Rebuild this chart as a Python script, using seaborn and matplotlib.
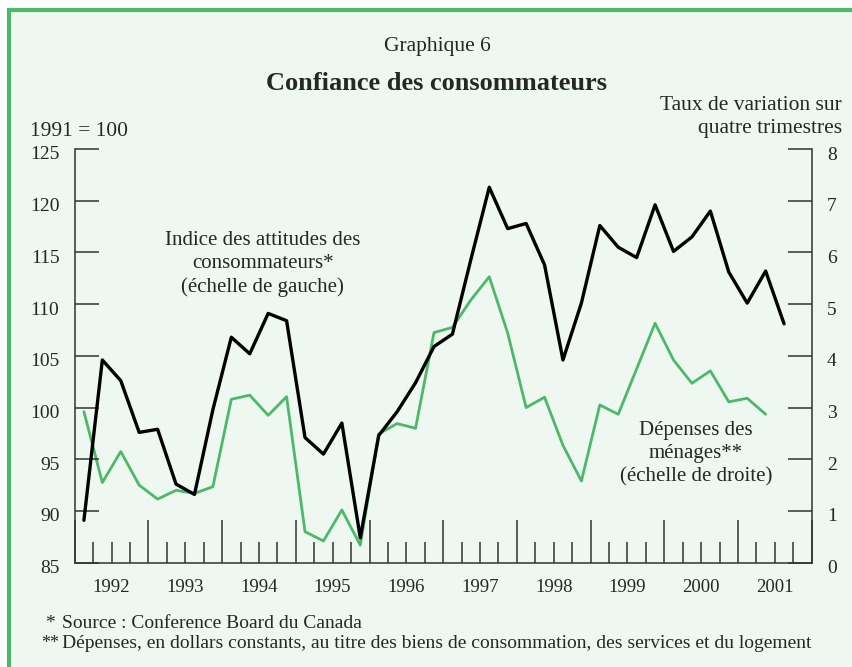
import numpy as np
import pandas as pd
import matplotlib
matplotlib.use("Agg")
import matplotlib.pyplot as plt
import matplotlib.transforms as mtransforms
from matplotlib.patches import Rectangle
import seaborn as sns

# Quarterly data, first quarter of 1992 onward
start_year = 1992
years = list(range(1992, 2002))
year_labels = [str(y) for y in years]

# Indice des attitudes des consommateurs (1991 = 100), left scale
attitudes = [89.1, 104.6, 102.6, 97.6, 97.9, 92.6, 91.6, 99.8,
             106.8, 105.2, 109.1, 108.4, 97.1, 95.5, 98.5, 87.4,
             97.3, 99.6, 102.4, 105.9, 107.1, 114.3, 121.3, 117.3,
             117.8, 113.8, 104.6, 110.1, 117.6, 115.5, 114.5, 119.6,
             115.1, 116.5, 119.0, 113.1, 110.1, 113.2, 108.1]

# Dépenses des ménages, taux de variation sur quatre trimestres, right scale
depenses = [2.92, 1.55, 2.15, 1.50, 1.23, 1.40, 1.34, 1.47,
            3.16, 3.24, 2.85, 3.21, 0.60, 0.42, 1.02, 0.34,
            2.49, 2.69, 2.60, 4.45, 4.55, 5.08, 5.53, 4.44,
            3.00, 3.20, 2.27, 1.58, 3.05, 2.87, 3.75, 4.63,
            3.92, 3.47, 3.71, 3.11, 3.18, 2.87]

left_ticks = [85, 90, 95, 100, 105, 110, 115, 120, 125]
right_ticks = [0, 1, 2, 3, 4, 5, 6, 7, 8]

GREEN = "#4cb96a"
BG = "#eef7f0"
AXC = "#333333"

# quarter mid-points in decimal years
df_att = pd.DataFrame({"t": start_year + (np.arange(len(attitudes)) + 0.5) / 4,
                       "v": attitudes})
df_dep = pd.DataFrame({"t": start_year + (np.arange(len(depenses)) + 0.5) / 4,
                       "v": depenses})

sns.set_style("ticks")
plt.rcParams["font.family"] = ["Liberation Serif", "DejaVu Serif"]

W, H = 853, 667
fig = plt.figure(figsize=(W / 100, H / 100), dpi=100)
fig.patch.set_facecolor("white")

# framed background
frame = Rectangle((9 / W, -0.1), 1.2, 1.1 - 10 / H, transform=fig.transFigure,
                  facecolor=BG, edgecolor=GREEN, linewidth=3.0, zorder=-10)
fig.patches.append(frame)

ax = fig.add_axes([74.7 / W, 1 - 562.7 / H, (811.7 - 74.7) / W, (562.7 - 149) / H])
ax2 = ax.twinx()

sns.lineplot(data=df_dep, x="t", y="v", ax=ax2, color=GREEN, linewidth=2.0)
sns.lineplot(data=df_att, x="t", y="v", ax=ax, color="black", linewidth=2.4)

ax.set_zorder(ax2.get_zorder() + 1)
ax.patch.set_visible(False)
ax2.patch.set_visible(False)

ax.set_xlim(1992, 2002)
ax.set_ylim(85, 125)
ax2.set_ylim(0, 8)
ax.set_xlabel("")
ax.set_ylabel("")
ax2.set_xlabel("")
ax2.set_ylabel("")

for a in (ax, ax2):
    a.spines["top"].set_visible(False)
    for s in a.spines.values():
        s.set_color(AXC)
        s.set_linewidth(1.1)

ax.spines["right"].set_visible(False)
ax2.spines["left"].set_visible(False)
ax2.spines["bottom"].set_visible(False)

ax.set_yticks(left_ticks)
ax.set_yticklabels([str(v) for v in left_ticks])
ax2.set_yticks(right_ticks)
ax2.set_yticklabels([str(v) for v in right_ticks])
ax.tick_params(axis="y", direction="in", length=17, width=1.1, color=AXC,
               pad=11, labelsize=14)
ax2.tick_params(axis="y", direction="in", length=17, width=1.1, color=AXC,
                pad=11, labelsize=14)

# tick labels sit a little below their ticks in the original
down = mtransforms.ScaledTranslation(0, -4 / 100, fig.dpi_scale_trans)
for lab in ax.get_yticklabels() + ax2.get_yticklabels():
    lab.set_transform(lab.get_transform() + down)

# year boundaries tall, quarters short
ax.set_xticks(np.arange(1992, 2003))
ax.set_xticklabels([])
ax.set_xticks(np.arange(1992, 2002, 0.25), minor=True)
ax.tick_params(axis="x", which="major", direction="in", length=31, width=1.1, color=AXC)
ax.tick_params(axis="x", which="minor", direction="in", length=15, width=1.1, color=AXC)

sec = ax.secondary_xaxis("bottom")
sec.set_xticks([y + 0.5 for y in years], year_labels)
sec.tick_params(length=0, pad=12, labelsize=13.5)
sec.spines["bottom"].set_visible(False)

# annotations
ax.text(1994.55, 113.9, "Indice des attitudes des\nconsommateurs*\n(échelle de gauche)",
        ha="center", va="center", fontsize=15, linespacing=1.3)
ax.text(2000.43, 95.5, "Dépenses des\nménages**\n(échelle de droite)",
        ha="center", va="center", fontsize=15, linespacing=1.3)

# titles and axis captions
fig.text(437 / W, 1 - 46 / H, "Graphique 6", ha="center", va="center", fontsize=15.5)
fig.text(437 / W, 1 - 84 / H, "Confiance des consommateurs", ha="center", va="center",
         fontsize=19, fontweight="bold")
fig.text(30 / W, 1 - 131 / H, "1991 = 100", ha="left", va="center", fontsize=15.5)
fig.text(842 / W, 1 - 117 / H, "Taux de variation sur\nquatre trimestres", ha="right",
         va="center", fontsize=15.5, multialignment="right", linespacing=1.25)

# footnotes
fig.text(45 / W, 1 - 623 / H, "*", ha="left", va="center", fontsize=14)
fig.text(62 / W, 1 - 623 / H, "Source : Conference Board du Canada", ha="left",
         va="center", fontsize=14)
fig.text(41 / W, 1 - 643 / H, "**", ha="left", va="center", fontsize=13)
fig.text(62 / W, 1 - 643 / H,
         "Dépenses, en dollars constants, au titre des biens de consommation, "
         "des services et du logement", ha="left", va="center", fontsize=14)

fig.savefig("out.png", dpi=100, facecolor=fig.get_facecolor())
